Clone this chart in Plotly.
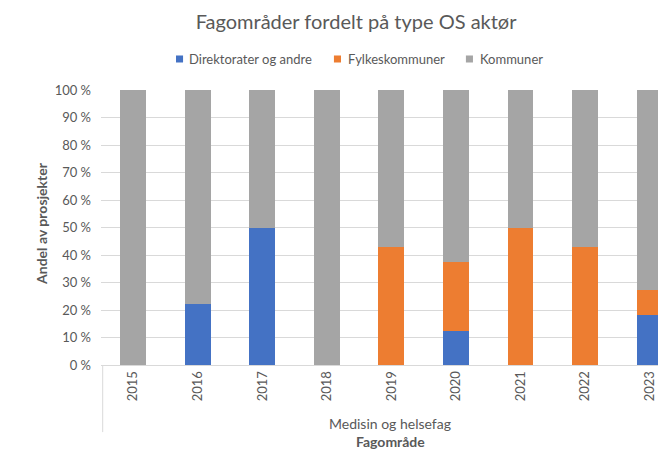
import plotly.graph_objects as go

years = ["2015", "2016", "2017", "2018", "2019", "2020", "2021", "2022", "2023"]
group_label = "Medisin og helsefag"
series_names = ["Direktorater og andre", "Fylkeskommuner", "Kommuner"]
direktorater = [0, 22.2, 50.0, 0, 0, 12.5, 0, 0, 18.2]
fylkeskommuner = [0, 0, 0, 0, 42.9, 25.0, 50.0, 42.9, 9.1]
kommuner = [100.0, 77.8, 50.0, 100.0, 57.1, 62.5, 50.0, 57.1, 72.7]
y_ticks = [0, 10, 20, 30, 40, 50, 60, 70, 80, 90, 100]

colors = ["#4472C4", "#ED7D31", "#A5A5A5"]
FONT = "Lato, 'Open Sans', sans-serif"
GREY = "#595959"

fig = go.Figure()
for name, vals, col in zip(series_names, [direktorater, fylkeskommuner, kommuner], colors):
    fig.add_trace(go.Bar(x=years, y=vals, name=name, marker=dict(color=col, line=dict(width=0)),
                         width=0.4, showlegend=False))

fig.update_layout(
    width=658, height=442,
    barmode="stack",
    paper_bgcolor="white", plot_bgcolor="white",
    margin=dict(l=93, r=1, t=82, b=85),
    font=dict(family=FONT, size=13, color=GREY),
    title=dict(text="Fagområder fordelt på type OS aktør", x=0.529, xanchor="center",
               y=0.968, yanchor="middle", font=dict(size=20, color=GREY)),
    showlegend=False,
)
fig.update_xaxes(type="category", range=[-0.5, 8.24], tickangle=-90, showgrid=False,
                 showline=True, linecolor="#d9d9d9", linewidth=1, ticks="",
                 tickfont=dict(size=13, color=GREY))
fig.update_yaxes(range=[0, 100], tickvals=y_ticks, ticktext=[f"{v} %" for v in y_ticks],
                 showgrid=True, gridcolor="#d9d9d9", gridwidth=1, zeroline=False,
                 showline=False, ticks="", ticklabelstandoff=9,
                 tickfont=dict(size=13, color=GREY))

# Manual legend (square markers + labels)
legend_sq_x = [0.133, 0.413, 0.647]
legend_txt_x = [0.1525, 0.434, 0.668]
for name, col, sx, tx in zip(series_names, colors, legend_sq_x, legend_txt_x):
    fig.add_shape(type="rect", xref="paper", yref="paper", x0=sx, x1=sx + 0.0125,
                  y0=1.1, y1=1.1255, fillcolor=col, line=dict(width=0))
    fig.add_annotation(text=name, xref="paper", yref="paper", x=tx, y=1.1127,
                       xanchor="left", yanchor="middle", showarrow=False,
                       font=dict(size=13, color=GREY))

# Y axis title
fig.add_annotation(text="<b>Andel av prosjekter</b>", xref="paper", yref="paper", x=-0.1046, y=0.513,
                   textangle=-90, xanchor="center", yanchor="middle", showarrow=False,
                   font=dict(size=14, color=GREY))

# Group divider line and labels
fig.add_shape(type="line", xref="paper", yref="paper", x0=0.003, x1=0.003, y0=0, y1=-0.244,
              line=dict(color="#d9d9d9", width=1))
fig.add_annotation(text=group_label, xref="paper", yref="paper", x=0.512, y=-0.211, yanchor="middle",
                   showarrow=False, font=dict(size=14, color=GREY))
fig.add_annotation(text="<b>Fagområde</b>", xref="paper", yref="paper", x=0.514, y=-0.278,
                   yanchor="middle", showarrow=False, font=dict(size=14, color=GREY))

fig.write_html("out.html")
